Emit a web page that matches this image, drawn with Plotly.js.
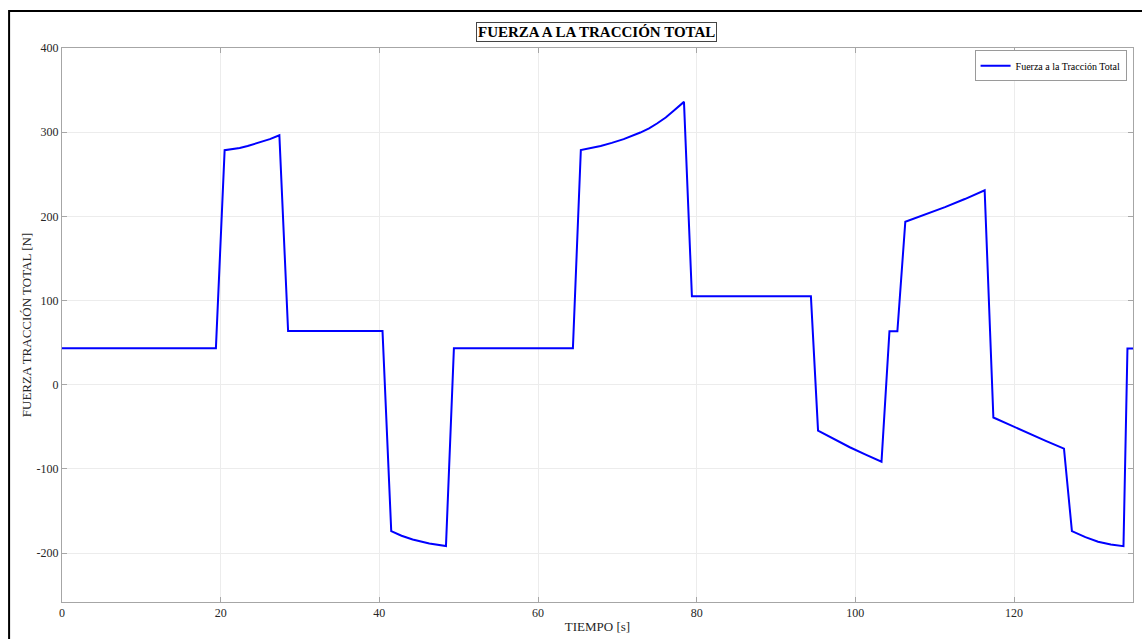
<!DOCTYPE html>
<html>
<head>
<meta charset="utf-8">
<script src="https://cdn.plot.ly/plotly-3.0.1.min.js"></script>
<style>html,body{margin:0;padding:0;background:#fff;}#chart{width:1142px;height:639px;}</style>
</head>
<body>
<div id="chart"></div>
<script>
// Time (s) and total traction force (N)
const tiempo = [0, 19.4, 20.5, 21.4, 22.4, 23.4, 24.5, 25.4, 26.2, 27.4, 28.5, 40.4,
  41.5, 42.8, 44.2, 46.3, 47.3, 48.4, 49.4,
  64.4, 65.4, 66.6, 67.9, 69.3, 70.8, 72.9, 74.0, 75.0, 76.1, 77.1, 78.4, 79.4, 94.4,
  95.3, 97.3, 99.3, 101.3, 103.3, 104.3, 105.3,
  106.3, 108.8, 111.3, 113.8, 116.3, 117.4, 119.6, 121.8, 124.0, 126.3,
  127.3, 129.0, 130.6, 132.2, 133.8, 134.3, 135];
const fuerza = [43.5, 43.5, 278.6, 279.6, 281.3, 283.6, 286.5, 289.0, 291.7, 296.4, 63.9, 63.9,
  -173.8, -179.3, -183.7, -188.5, -190.1, -191.5, 43.5,
  43.5, 278.9, 280.9, 283.7, 287.3, 291.7, 299.6, 304.6, 310.3, 317.4, 325.4, 336, 105, 105,
  -54.4, -64.6, -74.2, -83.0, -91.3, 63.5, 63.5,
  193.7, 202.0, 211.0, 220.6, 231, -38.9, -48.4, -57.5, -66.6, -75.8,
  -173.8, -181.0, -186.5, -189.8, -191.7, 43.2, 43.2];
const xTicks = [0, 20, 40, 60, 80, 100, 120];
const yTicks = [-200, -100, 0, 100, 200, 300, 400];

const serif = 'Liberation Serif, Times New Roman, serif';
const trace = {
  x: tiempo, y: fuerza, type: 'scatter', mode: 'lines',
  name: 'Fuerza a la Tracción Total',
  line: {color: '#0000ff', width: 2}
};
const axisCommon = {
  showline: true, linecolor: '#a6a6a6', linewidth: 1, mirror: 'ticks',
  ticks: 'inside', ticklen: 5, tickcolor: '#a6a6a6', tickwidth: 1,
  showgrid: true, gridcolor: '#ececec', gridwidth: 1, zeroline: false,
  tickfont: {family: serif, size: 12, color: '#262626'}
};
const layout = {
  width: 1142, height: 639,
  margin: {l: 62, r: 9, t: 48, b: 37},
  paper_bgcolor: '#ffffff', plot_bgcolor: '#ffffff',
  showlegend: true,
  legend: {x: 0.994, y: 0.996, xanchor: 'right', yanchor: 'top',
    bgcolor: '#ffffff', bordercolor: '#9a9a9a', borderwidth: 1,
    font: {family: serif, size: 10, color: '#000'}},
  xaxis: Object.assign({}, axisCommon, {
    range: [0, 135], tickvals: xTicks, ticktext: xTicks.map(String),
    title: {text: 'TIEMPO [s]', font: {family: serif, size: 13, color: '#262626'}, standoff: 2}
  }),
  yaxis: Object.assign({}, axisCommon, {
    range: [-258, 400], tickvals: yTicks, ticktext: yTicks.map(String),
    title: {text: 'FUERZA TRACCIÓN TOTAL [N]', font: {family: serif, size: 13, color: '#262626'}, standoff: 2}
  }),
  annotations: [{
    text: '<b>FUERZA A LA TRACCIÓN TOTAL</b>', xref: 'paper', yref: 'paper',
    x: 0.499, y: 1.029, xanchor: 'center', yanchor: 'middle', showarrow: false,
    font: {family: serif, size: 15, color: '#000'},
    bordercolor: '#444', borderwidth: 1, borderpad: 1, bgcolor: '#fff'
  }],
  shapes: [{
    type: 'rect', xref: 'paper', yref: 'paper',
    x0: -0.0494, x1: 1.2, y0: -0.3, y1: 1.0669,
    line: {color: '#000', width: 2}, fillcolor: 'rgba(0,0,0,0)'
  }]
};
Plotly.newPlot('chart', [trace], layout, {displayModeBar: false, responsive: false});
</script>
</body>
</html>
